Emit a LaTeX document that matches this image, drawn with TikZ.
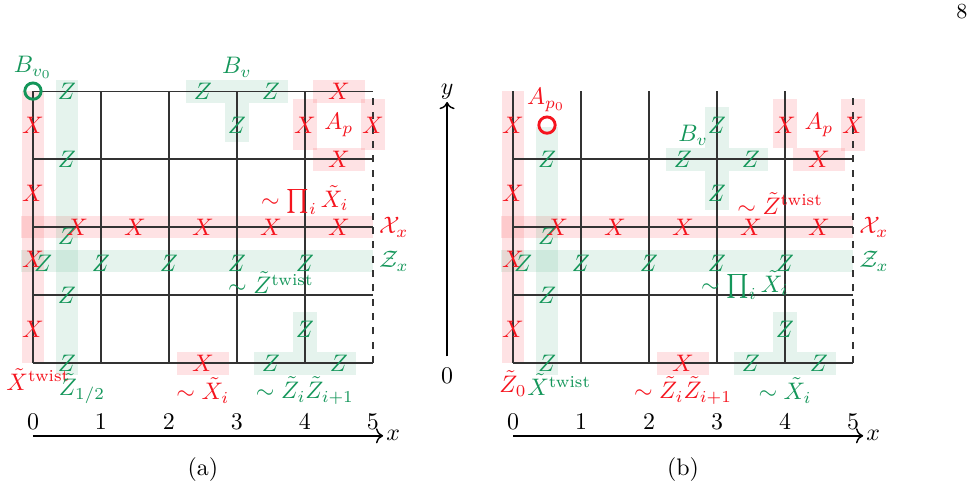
\documentclass[tikz,border=0pt]{standalone}
\usepackage{amsmath,amssymb}
\usetikzlibrary{arrows.meta}
\definecolor{myred}{RGB}{245,20,30}
\definecolor{mygreen}{RGB}{20,150,90}
\tikzset{
 grid/.style={line width=0.5pt,black!80},
 rb/.style={fill=myred,fill opacity=0.12,draw=none},
 gb/.style={fill=mygreen,fill opacity=0.11,draw=none},
 xo/.style={text=myred,inner sep=0pt},
 zo/.style={text=mygreen,inner sep=0pt},
 lab/.style={inner sep=1pt},
}
\begin{document}
\begin{tikzpicture}[x=1cm,y=1cm]
\useasboundingbox (-0.485,-1.897) rectangle (13.84,5.34);
\node[lab] (pg) at (13.66,5.17) {\small 8};
% ================= panel (a)
\begin{scope}
\fill[rb] (-0.17,1.84) rectangle (5,2.16);
\fill[gb] (-0.17,1.34) rectangle (5,1.66);
\fill[rb] (-0.16,0) rectangle (0.16,4);
\fill[gb] (0.34,-0.17) rectangle (0.66,4.17);
\fill[gb] (2.25,3.83) rectangle (3.75,4.17);
\fill[gb] (2.83,3.25) rectangle (3.17,3.83);
\fill[rb] (4.12,3.83) rectangle (4.88,4.17);
\fill[rb] (4.12,2.83) rectangle (4.88,3.17);
\fill[rb] (3.83,3.13) rectangle (4.17,3.88);
\fill[rb] (4.83,3.13) rectangle (5.17,3.88);
\fill[rb] (2.12,-0.17) rectangle (2.88,0.17);
\fill[gb] (3.25,-0.17) rectangle (4.75,0.17);
\fill[gb] (3.83,0.17) rectangle (4.17,0.75);
\foreach \y in {0,1,2,3,4} \draw[grid] (0,\y) -- (5,\y);
\foreach \x in {0,1,2,3,4} \draw[grid] (\x,0) -- (\x,4);
\draw[grid,dashed] (5,0) -- (5,4);
\draw[mygreen,line width=1.2pt] (0,4) circle (0.12);
\node[lab,text=mygreen] (bv0) at (0,4.35) {$B_{v_0}$};
\foreach \y [count=\i] in {3.5,2.5,1.52,0.5} \node[xo] (ax\i) at (0,\y) {$X$};
\foreach \y [count=\i] in {4,3,1.87,1,0} \node[zo] (az\i) at (0.5,\y) {$Z$};
\foreach \x [count=\i] in {0.65,1.5,2.5,3.5,4.5} \node[xo] (arx\i) at (\x,2) {$X$};
\foreach \x [count=\i] in {0.15,1,2,3,4} \node[zo] (arz\i) at (\x,1.47) {$Z$};
\node[zo] (bv1) at (2.5,4) {$Z$}; \node[zo] (bv2) at (3.5,4) {$Z$}; \node[zo] (bv3) at (3,3.5) {$Z$};
\node[lab,text=mygreen] (bvl) at (3,4.35) {$B_v$};
\node[xo] (ap1) at (4.5,4) {$X$}; \node[xo] (ap2) at (4,3.5) {$X$};
\node[xo] (ap3) at (5,3.5) {$X$}; \node[xo] (ap4) at (4.5,3) {$X$};
\node[xo] (apl) at (4.5,3.5) {$A_p$};
\node[lab,text=myred] (l1) at (4.0,2.4) {$\sim\prod_i\tilde X_i$};
\node[lab,text=myred,anchor=west] (l2) at (5.05,2) {$\mathcal{X}_x$};
\node[lab,text=mygreen,anchor=west] (l3) at (5.05,1.5) {$\mathcal{Z}_x$};
\node[lab,text=mygreen] (l4) at (3.5,1.18) {$\sim\tilde Z^{\text{twist}}$};
\node[xo] (b1) at (2.5,0) {$X$};
\node[zo] (b2) at (3.5,0) {$Z$}; \node[zo] (b3) at (4.5,0) {$Z$}; \node[zo] (b4) at (4,0.5) {$Z$};
\node[lab,text=myred] (l5) at (0.08,-0.24) {$\tilde X^{\text{twist}}$};
\node[lab,text=mygreen] (l6) at (0.72,-0.38) {$\tilde Z_{1/2}$};
\node[lab,text=myred] (l7) at (2.5,-0.4) {$\sim\tilde X_i$};
\node[lab,text=mygreen] (l8) at (4,-0.4) {$\sim\tilde Z_i\tilde Z_{i+1}$};
\foreach \x in {0,...,5} \node[lab] (an\x) at (\x,-0.87) {$\x$};
\coordinate (axs) at (0,-1.07); \coordinate (axe) at (5.15,-1.07);
\draw[-{To[length=3pt]},semithick] (axs) -- (axe) node[right,inner sep=1pt] (axl) {$x$};
\node[lab] (capa) at (2.5,-1.56) {(a)};
\end{scope}
% ================= panel (b)
\begin{scope}[xshift=7.06cm]
\fill[rb] (-0.17,1.84) rectangle (5,2.16);
\fill[gb] (-0.17,1.34) rectangle (5,1.66);
\fill[rb] (-0.16,0) rectangle (0.16,4);
\fill[gb] (0.34,-0.17) rectangle (0.66,3.47);
\fill[gb] (2.25,2.83) rectangle (3.75,3.17);
\fill[gb] (2.83,2.25) rectangle (3.17,2.83);
\fill[gb] (2.83,3.17) rectangle (3.17,3.76);
\fill[rb] (4.12,2.83) rectangle (4.88,3.17);
\fill[rb] (3.83,3.17) rectangle (4.17,3.88);
\fill[rb] (4.83,3.12) rectangle (5.17,3.88);
\fill[rb] (2.12,-0.17) rectangle (2.88,0.17);
\fill[gb] (3.25,-0.17) rectangle (4.75,0.17);
\fill[gb] (3.83,0.17) rectangle (4.17,0.75);
\foreach \y in {0,1,2,3} \draw[grid] (0,\y) -- (5,\y);
\foreach \x in {0,1,2,3,4} \draw[grid] (\x,0) -- (\x,4);
\draw[grid,dashed] (5,0) -- (5,4);
\draw[myred,line width=1.2pt] (0.5,3.5) circle (0.12);
\node[lab,text=myred] (ap0) at (0.49,3.87) {$A_{p_0}$};
\foreach \y [count=\i] in {3.5,2.5,1.52,0.5} \node[xo] (bx\i) at (0,\y) {$X$};
\foreach \y [count=\i] in {3,1.87,1,0} \node[zo] (bz\i) at (0.5,\y) {$Z$};
\foreach \x [count=\i] in {0.65,1.5,2.5,3.5,4.5} \node[xo] (brx\i) at (\x,2) {$X$};
\foreach \x [count=\i] in {0.15,1,2,3,4} \node[zo] (brz\i) at (\x,1.47) {$Z$};
\node[zo] (cv1) at (2.5,3) {$Z$}; \node[zo] (cv2) at (3.5,3) {$Z$};
\node[zo] (cv3) at (3,3.5) {$Z$}; \node[zo] (cv4) at (3,2.5) {$Z$};
\node[lab,text=mygreen] (cvl) at (2.65,3.35) {$B_v$};
\node[xo] (cp2) at (4,3.5) {$X$}; \node[xo] (cp3) at (5,3.5) {$X$}; \node[xo] (cp4) at (4.5,3) {$X$};
\node[xo] (cpl) at (4.5,3.5) {$A_p$};
\node[lab,text=myred] (m1) at (3.93,2.35) {$\sim\tilde Z^{\text{twist}}$};
\node[lab,text=myred,anchor=west] (m2) at (5.05,2) {$\mathcal{X}_x$};
\node[lab,text=mygreen,anchor=west] (m3) at (5.05,1.5) {$\mathcal{Z}_x$};
\node[lab,text=mygreen] (m4) at (3.41,1.15) {$\sim\prod_i\tilde X_i$};
\node[xo] (c1) at (2.5,0) {$X$};
\node[zo] (c2) at (3.5,0) {$Z$}; \node[zo] (c3) at (4.5,0) {$Z$}; \node[zo] (c4) at (4,0.5) {$Z$};
\node[lab,text=myred] (m5) at (0,-0.3) {$\tilde Z_0$};
\node[lab,text=mygreen] (m6) at (0.68,-0.32) {$\tilde X^{\text{twist}}$};
\node[lab,text=myred] (m7) at (2.5,-0.4) {$\sim\tilde Z_i\tilde Z_{i+1}$};
\node[lab,text=mygreen] (m8) at (4,-0.4) {$\sim\tilde X_i$};
\foreach \x in {0,...,5} \node[lab] (bn\x) at (\x,-0.87) {$\x$};
\coordinate (bxs) at (0,-1.07); \coordinate (bxe) at (5.15,-1.07);
\draw[-{To[length=3pt]},semithick] (bxs) -- (bxe) node[right,inner sep=1pt] (bxl) {$x$};
\coordinate (ys) at (-0.97,0.1); \coordinate (ye) at (-0.97,3.84);
\draw[-{To[length=3pt]},semithick] (ys) -- (ye) node[above,inner sep=1pt] (yl) {$y$};
\node[lab] (y0) at (-0.97,-0.18) {$0$};
\node[lab] (capb) at (2.5,-1.56) {(b)};
\end{scope}
\end{tikzpicture}
\end{document}
